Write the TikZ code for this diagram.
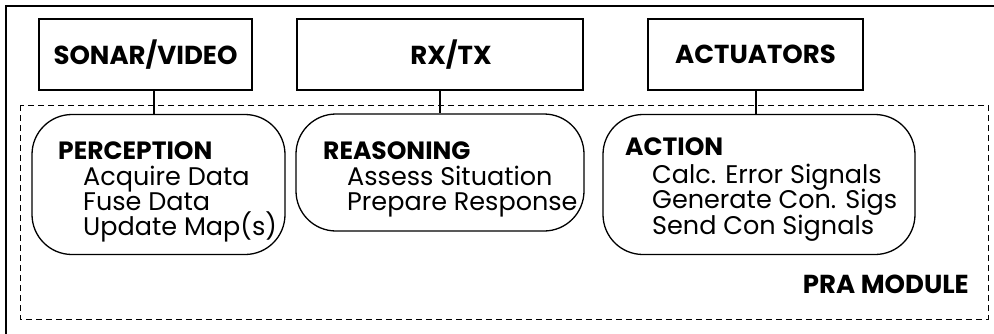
\documentclass[tikz,border=0pt]{standalone}
\usepackage{fontspec}
\setmainfont{Poppins}
\newcommand{\headfont}{\fontsize{25}{29}\selectfont\bfseries}
\newcommand{\itemfont}{\fontsize{25.5}{29}\selectfont}
\newcommand{\unitfont}{\fontsize{26}{30}\selectfont\bfseries}
\begin{document}
\begin{tikzpicture}[x=1pt,y=-1pt,
  frame/.style={line width=1.4pt},
  unitbox/.style={draw, line width=1.3pt, minimum height=71pt, inner sep=0pt, font=\unitfont},
  procbox/.style={draw, line width=1.3pt, rounded corners=40pt, inner sep=0pt},
  module/.style={line width=1pt, dash pattern=on 6pt off 4pt},
  link/.style={line width=1.3pt},
  head/.style={anchor=base west, inner sep=0pt, font=\headfont},
  item/.style={anchor=base west, inner sep=0pt, font=\itemfont}
]
\useasboundingbox (0,0) rectangle (994,333);
\clip (0,0) rectangle (994,333);

% outer frame (runs off the page on the right and bottom)
\draw[frame] (6,345) |- (1005,6);

% PRA module boundary
\draw[module] (20,105) rectangle (988,319);
\node[anchor=base east, inner sep=0pt, font=\unitfont] (pra) at (969,293) {PRA MODULE};

% external units
\node[unitbox, minimum width=213pt] (sonar) at (145.5,54.5) {SONAR/VIDEO};
\node[unitbox, minimum width=286pt] (rxtx) at (440,54.5) {\hspace*{22pt}RX/TX};
\node[unitbox, minimum width=215pt] (act) at (755.5,54.5) {ACTUATORS};

% processing stages
\node[procbox, minimum width=253pt, minimum height=140pt] (perc) at (158.5,184.5) {};
\node[procbox, minimum width=288pt, minimum height=117pt] (reas) at (440,172.5) {};
\node[procbox, minimum width=312pt, minimum height=140pt] (actn) at (759,184.5) {};

% connectors
\coordinate (tapA) at (154,0);
\coordinate (tapC) at (756,0);
\draw[link] (sonar.south -| tapA) -- (perc.north -| tapA);
\draw[link] (rxtx.south) -- (rxtx.south |- reas.north);
\draw[link] (act.south -| tapC) -- (actn.north -| tapC);

% perception stage
\node[head] (percH) at (58,159) {PERCEPTION};
\node[item] (perc1) at (83,185) {Acquire Data};
\node[item] (perc2) at (83,210) {Fuse Data};
\node[item] (perc3) at (83,235) {Update Map(s)};

% reasoning stage
\node[head] (reasH) at (323,159) {REASONING};
\node[item] (reas1) at (347,185) {Assess Situation};
\node[item] (reas2) at (347,210) {Prepare Response};

% action stage
\node[head] (actnH) at (625,155) {ACTION};
\node[item] (actn1) at (652,183) {Calc. Error Signals};
\node[item] (actn2) at (652,208) {Generate Con. Sigs};
\node[item] (actn3) at (652,234) {Send Con Signals};
\end{tikzpicture}
\end{document}
